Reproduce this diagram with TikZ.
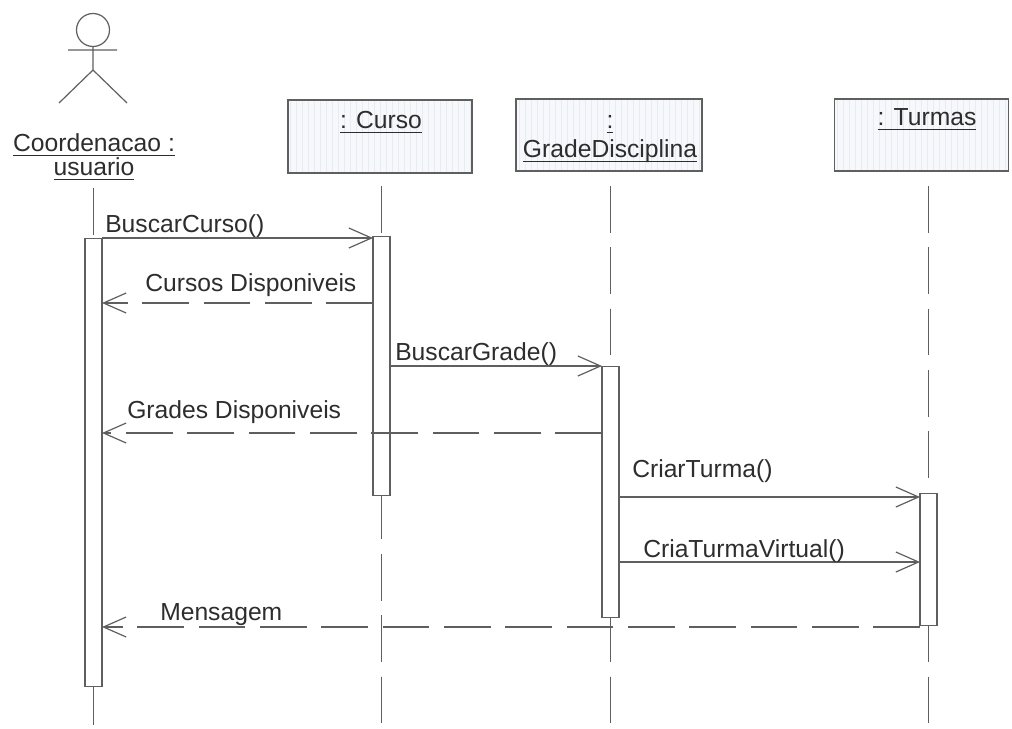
\documentclass[tikz,border=0pt]{standalone}
\usepackage{fontspec}
\setmainfont{Liberation Sans}
\usetikzlibrary{arrows.meta}
\definecolor{linegray}{RGB}{95,95,95}
\definecolor{textgray}{RGB}{45,45,45}
\definecolor{headfill}{RGB}{247,248,251}
\definecolor{gridgray}{RGB}{232,235,242}
\newcommand{\ulname}[1]{\setbox0\hbox{#1}\rlap{\rule[-4pt]{\wd0}{0.8pt}}\box0}
\tikzset{
  lbl/.style={font=\fontsize{18.5}{21}\selectfont, text=textgray, inner sep=0pt, anchor=base west},
  headlbl/.style={lbl, anchor=base},
  lifehead/.style={draw=linegray, line width=0.9pt, fill=headfill, minimum height=54pt, inner sep=0pt,
    path picture={\draw[gridgray, line width=0.25pt, step=6] (path picture bounding box.south west) grid (path picture bounding box.north east);}},
  lifeline/.style={draw=linegray, line width=0.8pt, dash pattern=on 35pt off 11pt},
  actbox/.style={draw=linegray, line width=0.9pt, fill=white, minimum width=12.75pt, inner sep=0pt, anchor=north},
  msg/.style={draw=linegray, line width=0.9pt, -{Straight Barb[length=17pt,width=15pt]}},
  ret/.style={msg, dash pattern=on 35pt off 11pt},
}
\begin{document}
\begin{tikzpicture}[x=0.75pt, y=-0.75pt]
  \useasboundingbox (0,0) rectangle (1012,728);

  % actor
  \node[circle, draw=linegray, line width=0.9pt, minimum size=24.75pt, inner sep=0pt] (head) at (93,30) {};
  \coordinate (hip) at (93,70);
  \coordinate (armL) at (68,50);
  \coordinate (armR) at (117,50);
  \coordinate (footL) at (59,103);
  \coordinate (footR) at (127,103);
  \draw[linegray, line width=0.9pt] (head.south) -- (hip) -- (footL) (hip) -- (footR) (armL) -- (armR);
  \node[headlbl] (usrA) at (94,151) {\ulname{Coordenacao :}};
  \node[headlbl] (usrB) at (94,175) {\ulname{usuario}};

  % object heads
  \node[lifehead, minimum width=138pt, minimum height=54.75pt] (curso) at (380,136.5) {};
  \node[lifehead, minimum width=139.5pt] (grade) at (609,135) {};
  \node[lifehead, minimum width=131pt] (turmas) at (921.5,135) {};
  \node[headlbl] (cursoLbl) at (381,128) {\ulname{: Curso}};
  \node[headlbl] (gradeA) at (610,128) {\ulname{:}};
  \node[headlbl] (gradeB) at (610,157) {\ulname{GradeDisciplina}};
  \node[headlbl] (turmasLbl) at (927,125) {\ulname{: Turmas}};

  % lifelines
  \coordinate (usrTop) at (93.5,188);
  \coordinate (cursoTop) at (381.5,186);
  \coordinate (gradeTop) at (610.5,186);
  \coordinate (turmasTop) at (928.5,186);
  \foreach \n/\x in {usr/93.5, curso/381.5, grade/610.5, turmas/928.5}
  {
    \coordinate (\n End) at (\x,728);
    \draw[lifeline] (\n Top) -- (\n End);
  }

  % activations
  \node[actbox, minimum height=336pt] (actU) at (93.5,238) {};
  \node[actbox, minimum height=194.25pt] (actC) at (381.5,236) {};
  \node[actbox, minimum height=188.25pt] (actG) at (610.5,366) {};
  \node[actbox, minimum height=99pt] (actT) at (928.5,493) {};

  % messages
  \coordinate (m1a) at (102,238);  \coordinate (m1b) at (373,238);
  \coordinate (m2a) at (373,303);  \coordinate (m2b) at (102,303);
  \coordinate (m3a) at (390,366);  \coordinate (m3b) at (602,366);
  \coordinate (m4a) at (602,433);  \coordinate (m4b) at (102,433);
  \coordinate (m5a) at (619,497);  \coordinate (m5b) at (920,497);
  \coordinate (m6a) at (619,562);  \coordinate (m6b) at (920,562);
  \coordinate (m7a) at (920,627);  \coordinate (m7b) at (102,627);
  \draw[msg] (m1a) -- (m1b);
  \draw[ret] (m2a) -- (m2b);
  \draw[msg] (m3a) -- (m3b);
  \draw[ret] (m4a) -- (m4b);
  \draw[msg] (m5a) -- (m5b);
  \draw[msg] (m6a) -- (m6b);
  \draw[ret] (m7a) -- (m7b);
  \node[lbl] (m1Lbl) at (105,232) {BuscarCurso()};
  \node[lbl] (m2Lbl) at (145,291) {Cursos Disponiveis};
  \node[lbl] (m3Lbl) at (395,360) {BuscarGrade()};
  \node[lbl] (m4Lbl) at (127,418) {Grades Disponiveis};
  \node[lbl] (m5Lbl) at (632,477) {CriarTurma()};
  \node[lbl] (m6Lbl) at (643,557) {CriaTurmaVirtual()};
  \node[lbl] (m7Lbl) at (160,620) {Mensagem};
\end{tikzpicture}
\end{document}
